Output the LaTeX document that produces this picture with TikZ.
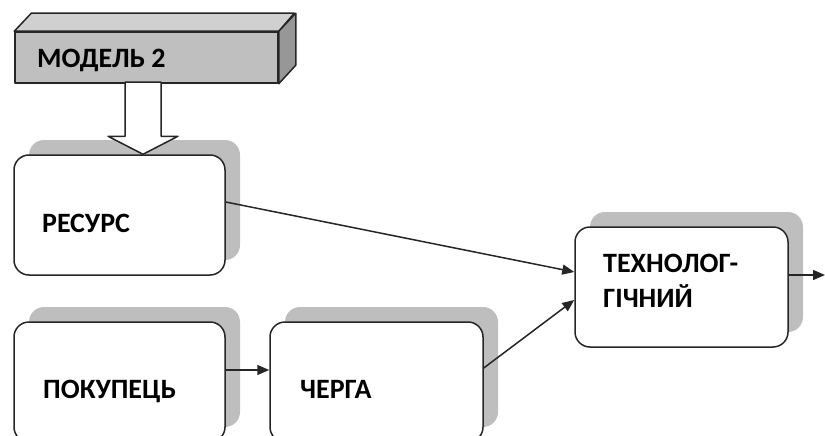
\documentclass[tikz,border=0pt]{standalone}
\usepackage{fontspec}
\setmainfont{Carlito}
\usetikzlibrary{arrows.meta,shadows,calc}
\definecolor{shadowgray}{HTML}{BEBEBE}
\definecolor{facefront}{HTML}{BFBFBF}
\definecolor{facetop}{HTML}{D0D0D0}
\definecolor{faceside}{HTML}{979797}
\definecolor{edge}{HTML}{262626}
\tikzset{
  procbox/.style={draw=edge, line width=1.5pt, fill=white, rounded corners=15pt,
    minimum width=#1, minimum height=120pt, inner sep=0pt,
    drop shadow={shadow xshift=15pt, shadow yshift=15pt, fill=shadowgray, opacity=1}},
  procbox/.default=211pt,
  lbl/.style={font=\bfseries\fontsize{28}{35}\selectfont, anchor=base west, inner sep=0pt, align=left},
  flow/.style={draw=edge, line width=1.5pt, -{Triangle[length=12pt,width=10pt]}},
  facepath/.style={draw=edge, line width=1.5pt, line join=round}
}
\begin{document}
\begin{tikzpicture}[x=1pt, y=-1pt]
  \clip (0,0) rectangle (825,436);
  \useasboundingbox (0,0) rectangle (825,436);

  % three-dimensional model block
  \node[facepath, fill=facefront, minimum width=263pt, minimum height=51pt, inner sep=0pt]
    (model) at (146.5,57.5) {};
  \draw[facepath, fill=facetop] (model.north west) -- ++(17,-18) -- ++(263,0)
    -- (model.north east) -- cycle;
  \draw[facepath, fill=faceside] (model.north east) -- ++(17,-18) -- ++(0,52)
    -- (model.south east) -- cycle;
  \node[lbl] (modelText) at (37,68) {МОДЕЛЬ 2};

  % process boxes
  \node[procbox] (resurs) at (119.5,215) {};
  \node[procbox] (pokup) at (119.5,382) {};
  \node[procbox=213pt] (cherga) at (376.5,382) {};
  \node[procbox=213pt] (tech) at (681.5,287) {};

  \node[lbl] (resursText) at (42,232) {РЕСУРС};
  \node[lbl] (pokupText) at (43,398) {ПОКУПЕЦЬ};
  \node[lbl] (chergaText) at (300,398) {ЧЕРГА};
  % base of a two-line label sits on its last line
  \node[lbl] (techText) at (603,307) {ТЕХНОЛОГ-\\ГІЧНИЙ};

  % hollow feed arrow from the model into the resource
  \coordinate (feedtip) at ([xshift=-3.5pt]model.south |- resurs.north);
  \draw[facepath, fill=white]
    (feedtip) -- ++(-35,-18) -- ++(17,0) -- ++(0,-54) -- ++(36,0)
    -- ++(0,54) -- ++(17,0) -- cycle;

  % connectors
  \coordinate (out) at (825,275);
  \draw[flow] ([yshift=13pt]resurs.east) -- ([yshift=15pt]tech.west);
  \draw[flow] ([yshift=14pt]cherga.east) -- ([yshift=-13pt]tech.west);
  \draw[flow] ([yshift=12pt]pokup.east) -- ([yshift=12pt]cherga.west);
  \draw[flow] ([yshift=12pt]tech.east) -- (out);
\end{tikzpicture}
\end{document}
